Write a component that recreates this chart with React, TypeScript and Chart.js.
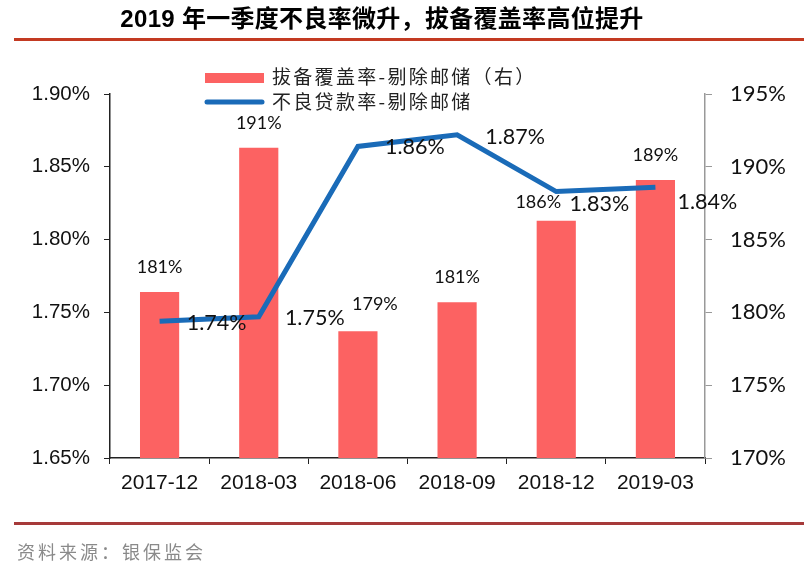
import React, { useEffect, useRef } from 'react';
import { Chart, registerables } from 'chart.js';

Chart.register(...registerables);

// ---- data ----
const categories = ['2017-12', '2018-03', '2018-06', '2018-09', '2018-12', '2019-03'];
const coverageRatio = [181.4, 191.3, 178.7, 180.7, 186.3, 189.1]; // 拔备覆盖率 (right axis, %)
const nplRatio = [1.744, 1.747, 1.864, 1.872, 1.833, 1.836]; // 不良贷款率 (left axis, %)
const leftAxisRange = [1.65, 1.9, 0.05];
const rightAxisRange = [170, 195, 5];
const seriesNames = ['拔备覆盖率-剔除邮储（右）', '不良贷款率-剔除邮储'];
const titleText = '2019 年一季度不良率微升，拔备覆盖率高位提升';
const sourceText = '资料来源：银保监会';

// ---- style ----
const BAR_COLOR = '#fc6262';
const LINE_COLOR = '#1a6bb8';
const LATIN = '"Liberation Sans", Arial, sans-serif';
const LABEL_FONT = 'Lato, "Liberation Sans", sans-serif';
const CJK = '"Noto Sans CJK SC", sans-serif';
const barLabelShift = [[0, -25], [0, -25], [17, -27], [0, -25], [-18, -18], [0, -25]];
const lineLabelShift = [[57, 2], [56, 1], [57, 1], [58, 2], [43, 13], [52, 15]];

const labelPlugin = {
  id: 'customLabels',
  afterDatasetsDraw(chart: any) {
    const ctx = chart.ctx;
    ctx.save();
    ctx.textAlign = 'center';
    ctx.textBaseline = 'middle';
    ctx.fillStyle = '#111';
    const barMeta = chart.getDatasetMeta(1);
    barMeta.data.forEach((el: any, i: number) => {
      const [dx, dy] = barLabelShift[i];
      ctx.font = `18px ${LABEL_FONT}`;
      ctx.fillText(Math.round(coverageRatio[i]) + '%', el.x + dx, el.y + dy);
    });
    const lineMeta = chart.getDatasetMeta(0);
    lineMeta.data.forEach((el: any, i: number) => {
      const [dx, dy] = lineLabelShift[i];
      ctx.font = `21.5px ${LABEL_FONT}`;
      ctx.fillText(nplRatio[i].toFixed(2) + '%', el.x + dx, el.y + dy);
    });
    ctx.restore();
  },
  afterDraw(chart: any) {
    const ctx = chart.ctx;
    ctx.save();
    // legend
    ctx.fillStyle = BAR_COLOR;
    ctx.fillRect(205, 73, 59, 10);
    ctx.strokeStyle = LINE_COLOR;
    ctx.lineWidth = 5;
    ctx.lineCap = 'round';
    ctx.beginPath();
    ctx.moveTo(207, 102);
    ctx.lineTo(262, 102);
    ctx.stroke();
    ctx.fillStyle = '#222';
    ctx.font = `19px ${CJK}`;
    ctx.textAlign = 'left';
    ctx.textBaseline = 'middle';
    (ctx as any).letterSpacing = '2.3px';
    ctx.fillText(seriesNames[0], 272, 77);
    ctx.fillText(seriesNames[1], 272, 102);
    ctx.restore();
  },
};

export default function App() {
  const ref = useRef<HTMLCanvasElement>(null);
  useEffect(() => {
    if (!ref.current) return;
    const chart = new Chart(ref.current, {
      type: 'bar',
      data: {
        labels: categories,
        datasets: [
          {
            type: 'line',
            label: seriesNames[1],
            data: nplRatio,
            yAxisID: 'yL',
            borderColor: LINE_COLOR,
            backgroundColor: LINE_COLOR,
            borderWidth: 5,
            pointRadius: 0,
            tension: 0,
            order: 0,
          } as any,
          {
            type: 'bar',
            label: seriesNames[0],
            data: coverageRatio,
            yAxisID: 'yR',
            backgroundColor: BAR_COLOR,
            categoryPercentage: 1,
            barPercentage: 0.395,
            order: 1,
          },
        ],
      },
      options: {
        responsive: false,
        animation: false,
        layout: { padding: { top: 94, left: 0, right: 0, bottom: 0 } },
        plugins: {
          legend: { display: false },
          tooltip: { enabled: false },
          title: { display: false },
        },
        scales: {
          x: {
            offset: true,
            grid: {
              offset: true,
              drawOnChartArea: false,
              drawTicks: true,
              tickLength: 6,
              color: '#222',
            },
            border: { color: '#222', width: 1.5 },
            ticks: {
              color: '#111',
              font: { family: LATIN, size: 21 },
              padding: 7,
              maxRotation: 0,
            },
            afterFit(scale: any) {
              scale.height = 123;
            },
          },
          yL: {
            position: 'left',
            min: leftAxisRange[0],
            max: leftAxisRange[1],
            grid: { drawOnChartArea: false, tickLength: 6, color: '#222' },
            border: { color: '#222', width: 1.5 },
            ticks: {
              stepSize: leftAxisRange[2],
              color: '#111',
              font: { family: LATIN, size: 20.5 },
              padding: 14,
              callback: (v: any) => Number(v).toFixed(2) + '%',
            },
            afterFit(scale: any) {
              scale.width = 110;
            },
          },
          yR: {
            position: 'right',
            min: rightAxisRange[0],
            max: rightAxisRange[1],
            grid: { drawOnChartArea: false, tickLength: 7, color: '#999' },
            border: { color: '#999', width: 1.5 },
            ticks: {
              stepSize: rightAxisRange[2],
              color: '#111',
              font: { family: LABEL_FONT, size: 22 },
              padding: 18,
              callback: (v: any) => Math.round(Number(v)) + '%',
            },
            afterFit(scale: any) {
              scale.width = 99;
            },
          },
        },
      },
      plugins: [labelPlugin],
    });
    return () => chart.destroy();
  }, []);

  return (
    <div style={{ position: 'absolute', left: 0, top: 0, width: 804, height: 581, background: '#fff', overflow: 'hidden' }}>
      <canvas ref={ref} width={804} height={581} style={{ position: 'absolute', left: 0, top: 0 }} />
      <div
        style={{
          position: 'absolute',
          left: 0,
          width: 764,
          top: 3,
          height: 32,
          lineHeight: '32px',
          textAlign: 'center',
          fontFamily: `"Liberation Sans", ${CJK}`,
          fontWeight: 'bold',
          fontSize: 24,
          letterSpacing: 0.3,
          color: '#000',
          whiteSpace: 'nowrap',
        }}
      >
        {titleText}
      </div>
      <div style={{ position: 'absolute', left: 14, right: 0, top: 38, height: 3, background: '#c33a22' }} />
      <div style={{ position: 'absolute', left: 14, right: 0, top: 522, height: 3, background: '#a63a3a' }} />
      <div
        style={{
          position: 'absolute',
          left: 17,
          top: 538,
          height: 26,
          lineHeight: '26px',
          fontFamily: CJK,
          fontSize: 18,
          letterSpacing: 3,
          color: '#8a8a8a',
          whiteSpace: 'nowrap',
        }}
      >
        {sourceText}
      </div>
    </div>
  );
}
